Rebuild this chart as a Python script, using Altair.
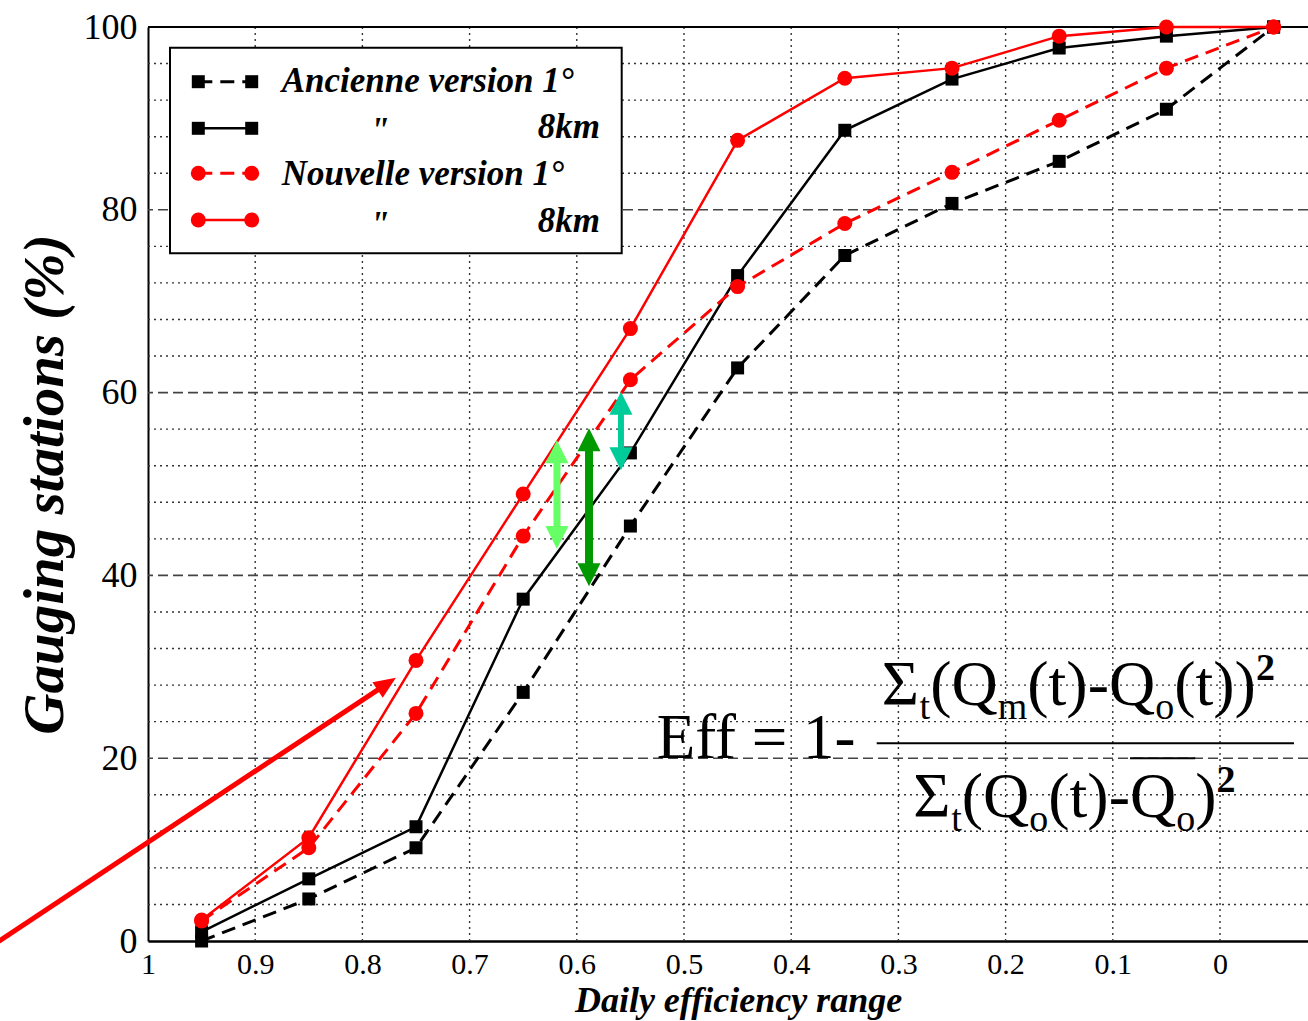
import altair as alt
import pandas as pd

# ---------------------------------------------------------------- data
# Centres of the daily-efficiency classes (x axis runs from 1 down to 0)
eff_centres = [0.95, 0.85, 0.75, 0.65, 0.55, 0.45, 0.35, 0.25, 0.15, 0.05, -0.05]

# Cumulative share of gauging stations (%)
ancienne_1deg = [0.0, 4.6, 10.2, 27.2, 45.4, 62.7, 75.0, 80.7, 85.3, 91.0, 100.0]
ancienne_8km = [1.0, 6.8, 12.5, 37.4, 53.4, 72.8, 88.7, 94.3, 97.7, 99.0, 100.0]
nouvelle_1deg = [2.2, 10.2, 24.9, 44.3, 61.4, 71.6, 78.5, 84.1, 89.8, 95.5, 100.0]
nouvelle_8km = [2.3, 11.3, 30.7, 48.9, 67.0, 87.6, 94.4, 95.5, 99.0, 100.0, 100.0]

series_keys = ["anc_1deg", "anc_8km", "nouv_1deg", "nouv_8km"]
series_values = [ancienne_1deg, ancienne_8km, nouvelle_1deg, nouvelle_8km]
legend_labels = ["Ancienne version 1°", "8km", "Nouvelle version 1°", "8km"]
ditto_mark = '"'

x_ticks = [1, 0.9, 0.8, 0.7, 0.6, 0.5, 0.4, 0.3, 0.2, 0.1, 0]
y_ticks = [0, 20, 40, 60, 80, 100]
y_major_grid = [20, 40, 60, 80]
y_minor_grid = [v for v in range(4, 100, 4) if v % 20]
x_grid = [0.9, 0.8, 0.7, 0.6, 0.5, 0.4, 0.3, 0.2, 0.1, 0]

# Gaps highlighted between curves: x position, lower and upper ends (%)
gap_x = [0.6185, 0.5886, 0.5588]
gap_low = [42.9, 38.8, 51.5]
gap_high = [54.8, 56.1, 60.1]

# Pointer arrow (tail -> head) towards the new 8 km curve
pointer_x = [1.1474, 0.7687]
pointer_y = [-0.66, 28.8]

# ---------------------------------------------------------------- layout
W, H = 1160, 914
LEFT, TOP = 148, 27
PX_PER_UNIT = 1072.0
SERIF = "Liberation Serif"

x_scale = alt.Scale(domain=[1.0, 1.0 - W / PX_PER_UNIT], nice=False, zero=False)
y_scale = alt.Scale(domain=[0, 100], nice=False, zero=False)


def X(field, axis=None):
    if axis is None:
        return alt.X(f"{field}:Q", scale=x_scale)
    return alt.X(f"{field}:Q", scale=x_scale, axis=axis)


def Y(field, axis=None):
    if axis is None:
        return alt.Y(f"{field}:Q", scale=y_scale)
    return alt.Y(f"{field}:Q", scale=y_scale, axis=axis)


def px(v):
    return v - LEFT


def py(v):
    return v - TOP


one_row = pd.DataFrame({"k": [0]})

x_axis = alt.Axis(
    values=x_ticks, format="~g", grid=False, ticks=False, tickSize=0,
    labelFont=SERIF, labelFontSize=30, labelColor="black", labelPadding=8,
    labelFlush=False, labelOverlap=False,
    domainColor="black", domainWidth=2.5,
    title="Daily efficiency range", titleFont=SERIF, titleFontSize=36,
    titleFontStyle="italic", titleFontWeight="bold", titleColor="black",
    titleX=590, titleY=70, titleAlign="center", titleBaseline="alphabetic",
)
y_axis = alt.Axis(
    values=y_ticks, grid=False, ticks=False, tickSize=0,
    labelFont=SERIF, labelFontSize=36, labelColor="black", labelPadding=11,
    labelOverlap=False, labelFlush=False,
    domainColor="black", domainWidth=2,
    title="Gauging stations (%)", titleFont=SERIF, titleFontSize=57,
    titleFontStyle="italic", titleFontWeight="bold", titleColor="black",
    titleX=-86, titleY=457, titleAngle=270, titleAlign="center",
    titleBaseline="alphabetic",
)

layers = []

# ---- axes carrier (drawn first, invisible points)
curves = pd.concat(
    [pd.DataFrame({"eff": eff_centres, "pct": vals, "series": key})
     for key, vals in zip(series_keys, series_values)],
    ignore_index=True,
)
layers.append(
    alt.Chart(curves).mark_point(opacity=0, size=1)
    .encode(x=X("eff", x_axis), y=Y("pct", y_axis))
)

# ---- grid
layers.append(
    alt.Chart(pd.DataFrame({"v": y_minor_grid}))
    .mark_rule(color="#333333", strokeWidth=1.4, strokeDash=[2, 4])
    .encode(y=Y("v"))
)
layers.append(
    alt.Chart(pd.DataFrame({"v": x_grid}))
    .mark_rule(color="#333333", strokeWidth=1.4, strokeDash=[2, 4])
    .encode(x=X("v"))
)
layers.append(
    alt.Chart(pd.DataFrame({"v": y_major_grid}))
    .mark_rule(color="#444444", strokeWidth=1.6, strokeDash=[10, 5])
    .encode(y=Y("v"))
)
# top frame line
layers.append(
    alt.Chart(pd.DataFrame({"v": [100]}))
    .mark_rule(color="black", strokeWidth=2)
    .encode(y=Y("v"))
)

# ---- curves
styles = {
    "anc_1deg": dict(color="#000000", dash=[14, 8], width=3, shape="square", size=169),
    "anc_8km": dict(color="#000000", dash=None, width=2.5, shape="square", size=169),
    "nouv_1deg": dict(color="#ff0000", dash=[14, 8], width=3, shape="circle", size=225),
    "nouv_8km": dict(color="#ff0000", dash=None, width=2.5, shape="circle", size=225),
}

for key in series_keys:
    st = styles[key]
    base = alt.Chart(curves).transform_filter(alt.datum.series == key)
    line_kw = dict(color=st["color"], strokeWidth=st["width"])
    if st["dash"]:
        line_kw["strokeDash"] = st["dash"]
    layers.append(base.mark_line(**line_kw).encode(x=X("eff"), y=Y("pct")))
    layers.append(
        base.mark_point(filled=True, shape=st["shape"], size=st["size"],
                        color=st["color"], opacity=1)
        .encode(x=X("eff"), y=Y("pct"))
    )

# ---- double-headed gap arrows
gap_styles = [("#66ff66", 7), ("#009900", 8), ("#00cc99", 6)]
HEAD = 23.0
for gx, lo, hi, (col, w) in zip(gap_x, gap_low, gap_high, gap_styles):
    d = pd.DataFrame({"x": [gx], "lo": [lo], "hi": [hi]})
    layers.append(
        alt.Chart(d).mark_rule(color=col, strokeWidth=w, yOffset=-15, y2Offset=15)
        .encode(x=X("x"), y=Y("lo"), y2=alt.Y2("hi"))
    )
    layers.append(
        alt.Chart(d).mark_point(shape="M0,-1L1,1L-1,1Z", size=HEAD * HEAD, filled=True,
                                color=col, opacity=1, yOffset=HEAD / 2)
        .encode(x=X("x"), y=Y("hi"))
    )
    layers.append(
        alt.Chart(d).mark_point(shape="M0,1L1,-1L-1,-1Z", size=HEAD * HEAD, filled=True,
                                color=col, opacity=1, yOffset=-HEAD / 2)
        .encode(x=X("x"), y=Y("lo"))
    )

# ---- red pointer arrow
ptr = pd.DataFrame({"x0": [pointer_x[0]], "y0": [pointer_y[0]],
                    "x1": [pointer_x[1]], "y1": [pointer_y[1]]})
layers.append(
    alt.Chart(ptr).mark_rule(color="#ff0000", strokeWidth=5, x2Offset=-12.5, y2Offset=8.3)
    .encode(x=X("x0"), y=Y("y0"), x2=alt.X2("x1"), y2=alt.Y2("y1"))
)
layers.append(
    alt.Chart(ptr).mark_point(shape="M1,0L-1,-0.85L-1,0.85Z", size=484, filled=True,
                              color="#ff0000", opacity=1, angle=326.5,
                              xOffset=-9.2, yOffset=6.1)
    .encode(x=X("x1"), y=Y("y1"))
)

# ---- legend box
layers.append(
    alt.Chart(one_row).mark_rect(fill="white", stroke="black", strokeWidth=2)
    .encode(x=alt.value(px(170)), x2=alt.value(px(621.7)),
            y=alt.value(py(47.7)), y2=alt.value(py(253.3)))
)
row_centres = [81.7, 128.3, 173.3, 220.0]
row_baselines = [91.7, 138.3, 185.0, 231.7]
legend_font = dict(font=SERIF, fontSize=35, fontStyle="italic", fontWeight="bold",
                   color="black", baseline="alphabetic")
for i, key in enumerate(series_keys):
    st = styles[key]
    rule_kw = dict(color=st["color"], strokeWidth=st["width"])
    if st["dash"]:
        rule_kw["strokeDash"] = st["dash"]
    layers.append(
        alt.Chart(one_row).mark_rule(**rule_kw)
        .encode(x=alt.value(px(198.3)), x2=alt.value(px(251.7)), y=alt.value(py(row_centres[i])))
    )
    for mx in (198.3, 251.7):
        layers.append(
            alt.Chart(one_row).mark_point(filled=True, shape=st["shape"], size=st["size"],
                                          color=st["color"], opacity=1)
            .encode(x=alt.value(px(mx)), y=alt.value(py(row_centres[i])))
        )
    if i % 2 == 0:
        layers.append(
            alt.Chart(one_row).mark_text(align="left", text=legend_labels[i], **legend_font)
            .encode(x=alt.value(px(281.7)), y=alt.value(py(row_baselines[i])))
        )
    else:
        layers.append(
            alt.Chart(one_row).mark_text(align="left", text=ditto_mark, **legend_font)
            .encode(x=alt.value(px(370)), y=alt.value(py(row_baselines[i] + 4)))
        )
        layers.append(
            alt.Chart(one_row).mark_text(align="right", text=legend_labels[i], **legend_font)
            .encode(x=alt.value(px(600)), y=alt.value(py(row_baselines[i])))
        )

# ---- Nash efficiency formula
MAIN, SUB, SUP = 64, 38, 38
ADV = {"Σ": 0.592, "t": 0.278, "(": 0.333, ")": 0.333, "Q": 0.722,
       "m": 0.778, "o": 0.5, "-": 0.333, "2": 0.5}


def lay_out(parts, x0, base):
    # parts: (text, kind) with kind 0 = normal, 1 = subscript, 2 = superscript
    items, x = [], x0
    for txt, kind in parts:
        fs = (MAIN, SUB, SUP)[kind]
        y = (base, base + 14, base - 25)[kind]
        items.append((txt, x, y, fs, "bold" if kind == 2 else "normal"))
        x += sum(ADV[c] for c in txt) * fs
    return items


numerator = [("Σ", 0), ("t", 1), ("(Q", 0), ("m", 1), ("(t)-Q", 0), ("o", 1),
             ("(t))", 0), ("2", 2)]
denominator = [("Σ", 0), ("t", 1), ("(Q", 0), ("o", 1), ("(t)-Q", 0), ("o", 1),
               (")", 0), ("2", 2)]

num_items = lay_out(numerator, 881.7, 705.0)
den_items = lay_out(denominator, 913.3, 816.7)
formula_items = [("Eff = 1-", 656.7, 758.3, 63, "normal")] + num_items + den_items

for txt, x, y, fs, fw in formula_items:
    layers.append(
        alt.Chart(one_row).mark_text(align="left", baseline="alphabetic", text=txt,
                                     font=SERIF, fontSize=fs, fontWeight=fw, color="black")
        .encode(x=alt.value(px(x)), y=alt.value(py(y)))
    )

# fraction bar
layers.append(
    alt.Chart(one_row).mark_rule(color="black", strokeWidth=2)
    .encode(x=alt.value(px(876.7)), x2=alt.value(px(1294)), y=alt.value(py(743.3)))
)
# mean bar over the last Q of the denominator
q_seg = den_items[4]
q_start = q_seg[1] + (ADV["("] + ADV["t"] + ADV[")"] + ADV["-"]) * MAIN
q_end = den_items[5][1] + ADV["o"] * SUB
layers.append(
    alt.Chart(one_row).mark_rule(color="black", strokeWidth=2)
    .encode(x=alt.value(px(q_start)), x2=alt.value(px(q_end)), y=alt.value(py(758.3)))
)

chart = (
    alt.layer(*layers)
    .properties(
        width=W, height=H,
        autosize=alt.AutoSizeParams(type="none"),
        padding={"left": LEFT, "top": TOP, "right": 0, "bottom": 80},
        background="white",
    )
    .configure_view(stroke=None)
)

chart.save("out.html", embed_options={"renderer": "svg", "actions": False})
